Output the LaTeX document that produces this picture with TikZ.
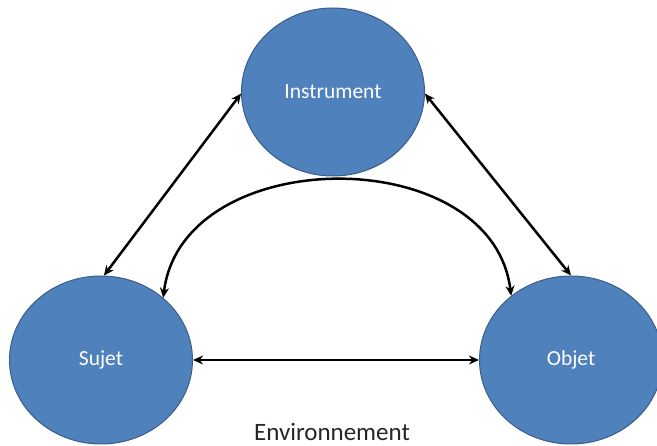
\documentclass[tikz,border=0pt]{standalone}
\usepackage{fontspec}
\setmainfont{Carlito}
\usetikzlibrary{shapes.geometric,arrows.meta,positioning}
\definecolor{pole}{RGB}{79,129,189}
\definecolor{poleline}{RGB}{56,93,138}
\begin{document}
\begin{tikzpicture}[x=1pt, y=1pt,
    pole/.style={ellipse, draw=poleline, line width=1pt, fill=pole,
      minimum width=183pt, minimum height=168pt, inner sep=0pt,
      text=white, font=\fontsize{21.5}{24}\selectfont},
    link/.style={line width=2.5pt,
      {Stealth[length=10pt,width=9pt]}-{Stealth[length=10pt,width=9pt]}}]
        \useasboundingbox (0,0) rectangle (657,446);
        \node[pole] (Sujet) at (101,86) {Sujet};
        \node[pole, right=286pt of Sujet] (Objet) {Objet};
        \node[pole] (Instrument) at (333,354) {Instrument};
        \node[font=\fontsize{25}{28}\selectfont, text=black!85, inner sep=0pt,
        anchor=base] (env) at (332,5) {Environnement};
        \draw[link] (Sujet.88) -- (Instrument.181);
        \draw[link] (Instrument.-1) -- (Objet.90);
        \draw[link] (Sujet.east) -- (Objet.west);
        \draw[link] (Sujet.45) to[out=83, in=97, looseness=1.15] (Objet.133);
    \end{tikzpicture}
\end{document}
